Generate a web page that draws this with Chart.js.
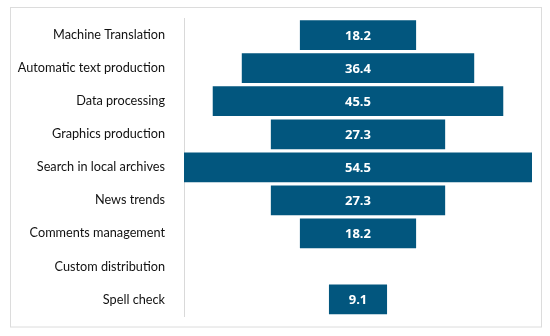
<!DOCTYPE html>
<html>
<head>
<meta charset="utf-8">
<script src="https://cdn.jsdelivr.net/npm/chart.js@4.4.1/dist/chart.umd.min.js"></script>
<style>
  html, body { margin: 0; padding: 0; background: #fff; }
  #wrap { width: 550px; height: 336px; }
</style>
</head>
<body>
<div id="wrap"><canvas id="funnelChart" width="550" height="336"></canvas></div>
<script>
// Categorias (de cima para baixo) e percentuais
const categories = [
    'Machine Translation',
    'Automatic text production',
    'Data processing',
    'Graphics production',
    'Search in local archives',
    'News trends',
    'Comments management',
    'Custom distribution',
    'Spell check'
];
const values = [18.2, 36.4, 45.5, 27.3, 54.5, 27.3, 18.2, 0, 9.1];

const maxValue = 54.5;
const barColor = '#02567e';

// Barras flutuantes centradas em zero -> formato de funil
const floating = values.map(v => [-v / 2, v / 2]);

// Moldura cinza clara em volta do gráfico
const framePlugin = {
    id: 'frame',
    beforeDraw(chart) {
        const c = chart.ctx;
        c.save();
        c.strokeStyle = '#dcdcdc';
        c.lineWidth = 1;
        c.strokeRect(10.5, 7.5, 531, 319.5);
        c.restore();
    }
};

// Rótulos brancos no centro de cada barra
const valueLabels = {
    id: 'valueLabels',
    afterDatasetsDraw(chart) {
        const c = chart.ctx;
        const meta = chart.getDatasetMeta(0);
        c.save();
        c.font = 'bold 13px "Open Sans", sans-serif';
        c.fillStyle = '#ffffff';
        c.textAlign = 'center';
        c.textBaseline = 'middle';
        meta.data.forEach((bar, i) => {
            if (!values[i]) return;
            const cx = (bar.x + bar.base) / 2;
            c.fillText(values[i].toFixed(1), cx, bar.y + 1);
        });
        c.restore();
    }
};

const ctx = document.getElementById('funnelChart').getContext('2d');
const chart = new Chart(ctx, {
    type: 'bar',
    data: {
        labels: categories,
        datasets: [{
            data: floating,
            backgroundColor: barColor,
            borderWidth: 0,
            borderSkipped: false,
            categoryPercentage: 1,
            barPercentage: 0.9
        }]
    },
    options: {
        indexAxis: 'y',
        responsive: false,
        animation: false,
        layout: { padding: { top: 18, bottom: 20, right: 18, left: 0 } },
        plugins: {
            legend: { display: false },
            tooltip: { enabled: false }
        },
        scales: {
            x: {
                display: false,
                min: -maxValue / 2,
                max: maxValue / 2
            },
            y: {
                grid: { display: false },
                border: { display: true, color: '#d9d9d9', width: 1 },
                ticks: {
                    color: '#111111',
                    padding: 11,
                    font: { family: 'Lato, "Open Sans", sans-serif', size: 12.7 }
                },
                afterFit(scale) { scale.width = 184; }
            }
        }
    },
    plugins: [framePlugin, valueLabels]
});
</script>
</body>
</html>
